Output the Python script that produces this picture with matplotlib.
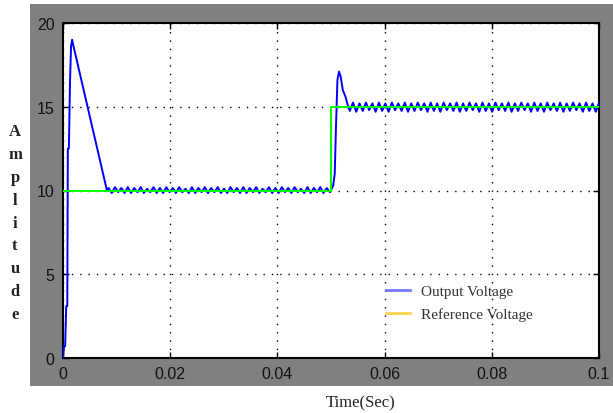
import matplotlib
matplotlib.use("Agg")
import matplotlib.pyplot as plt
import numpy as np
from matplotlib.lines import Line2D
from matplotlib.patches import Rectangle

plt.rcParams.update({
    'font.family': 'sans-serif',
    'font.sans-serif': ['Liberation Sans', 'DejaVu Sans'],
    'font.size': 11.5,
})

# startup transient (output voltage)
start_t = [0.0, 0.0002, 0.0004, 0.0006, 0.0008, 0.0009, 0.0011, 0.0013, 0.0015, 0.0017, 0.0019, 0.0082]
start_v = [0.0, 0.7, 0.7, 3.1, 3.1, 12.5, 12.5, 16.4, 18.6, 19.0, 18.7, 10.0]

# ripple around 10 V, 0.0085 .. 0.0498 s
ripple10 = [10.15, 9.85, 10.2, 9.9, 10.15, 9.85, 10.2, 9.85, 10.15, 9.9,
            10.2, 9.85, 10.1, 9.9, 10.2, 9.85, 10.15, 9.85, 10.2, 9.9,
            10.15, 9.85, 10.2, 9.9, 10.1, 9.85, 10.2, 9.85, 10.15, 9.9,
            10.2, 9.85, 10.15, 9.9, 10.2, 9.85, 10.1, 9.85, 10.2, 9.9,
            10.15, 9.85, 10.2, 9.85, 10.15, 9.9, 10.2, 9.85, 10.1, 9.9,
            10.2, 9.85, 10.15, 9.85, 10.2, 9.9, 10.15, 9.85, 10.2, 9.9,
            10.1, 9.85, 10.2, 9.85, 10.15, 9.9, 10.2, 9.85, 10.15, 9.9]

# step transient at 0.05 s
step_t = [0.0500, 0.0504, 0.0507, 0.0509, 0.0512, 0.0515, 0.0518, 0.0522, 0.0527, 0.0532]
step_v = [10.0, 10.3, 11.0, 13.5, 16.6, 17.1, 16.8, 16.0, 15.6, 15.0]

# ripple around 15 V, 0.0535 .. 0.1 s
ripple15 = [14.75, 15.25, 14.7, 15.2, 14.75, 15.25, 14.8, 15.2, 14.7, 15.25,
            14.75, 15.2, 14.7, 15.25, 14.8, 15.2, 14.75, 15.25, 14.7, 15.2,
            14.75, 15.25, 14.8, 15.2, 14.7, 15.25, 14.75, 15.2, 14.7, 15.25,
            14.8, 15.2, 14.75, 15.25, 14.7, 15.2, 14.75, 15.25, 14.8, 15.2,
            14.7, 15.25, 14.75, 15.2, 14.7, 15.25, 14.8, 15.2, 14.75, 15.25,
            14.7, 15.2, 14.75, 15.25, 14.8, 15.2, 14.7, 15.25, 14.75, 15.2,
            14.7, 15.25, 14.8, 15.2, 14.75, 15.25, 14.7, 15.2, 14.75, 15.25,
            14.8, 15.2, 14.7, 15.25, 14.75, 15.2, 14.7, 15.25]

ref_t = [0.0, 0.05, 0.05, 0.1]
ref_v = [10, 10, 15, 15]

xticks = [0, 0.02, 0.04, 0.06, 0.08, 0.1]
xticklabels = ['0', '0.02', '0.04', '0.06', '0.08', '0.1']
yticks = [0, 5, 10, 15, 20]

t10 = np.linspace(0.0085, 0.0498, len(ripple10))
t15 = np.linspace(0.0535, 0.1, len(ripple15))
out_t = np.concatenate([start_t, t10, step_t, t15])
out_v = np.concatenate([start_v, ripple10, step_v, ripple15])

fig = plt.figure(figsize=(6.13, 4.14), dpi=100)
bg = Rectangle((30 / 613, 27 / 414), 583 / 613, 382 / 414,
               transform=fig.transFigure, facecolor='#808080',
               edgecolor='none', zorder=-5)
fig.add_artist(bg)
ax = fig.add_axes([63 / 613, 55 / 414, 536 / 613, 335 / 414])
ax.set_zorder(1)
ax.set_facecolor('white')

ax.plot(out_t, out_v, color='#0000ff', linewidth=1.4, zorder=3)
ax.plot(ref_t, ref_v, color='#00ff00', linewidth=1.4, zorder=4)

ax.set_xlim(0, 0.1)
ax.set_ylim(0, 20)
ax.set_xticks(xticks)
ax.set_xticklabels(xticklabels)
ax.set_yticks(yticks)
ax.tick_params(direction='in', length=4, width=1, top=True, right=True,
               colors='black', labelcolor='#111111', pad=6)
ax.grid(True, color='black', linestyle=(0, (1, 5)), linewidth=1.0)
for s in ax.spines.values():
    s.set_linewidth(1.5)
    s.set_color('black')

handles = [Line2D([], [], color='#7777ff', linewidth=2),
           Line2D([], [], color='#ffd24d', linewidth=2)]
ax.legend(handles, ['Output Voltage', 'Reference Voltage'],
          loc='upper left', bbox_to_anchor=(372 / 613, 1 - 272 / 414),
          bbox_transform=fig.transFigure, frameon=False,
          handlelength=1.6, handletextpad=0.7, labelspacing=0.6,
          prop={'family': 'Liberation Serif', 'size': 11})
for txt in ax.get_legend().get_texts():
    txt.set_color('#333333')

# stacked y label
for i, ch in enumerate("Amplitude"):
    fig.text(15 / 613, 1 - (132 + i * 22.9) / 414, ch, ha='center', va='center',
             family='Liberation Serif', fontweight='bold', fontsize=12,
             color='#222222')

fig.text(361 / 613, 1 - 403 / 414, 'Time(Sec)', ha='center', va='center',
         family='Liberation Serif', fontsize=12, color='#222222')

fig.savefig('out.png', dpi=100)
